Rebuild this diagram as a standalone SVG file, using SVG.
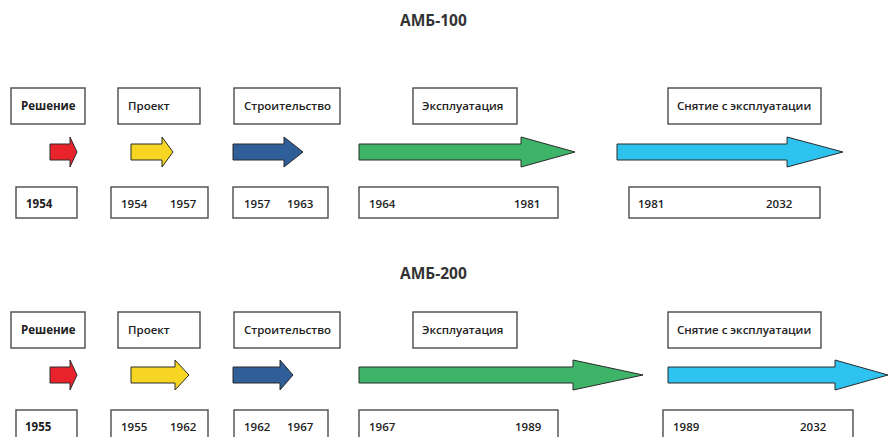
<svg xmlns="http://www.w3.org/2000/svg" width="889" height="437" viewBox="0 0 889 437">
<style>
.bx{fill:#fff;stroke:#4a4a4a;stroke-width:1.4}
.t{font-family:"Open Sans","Noto Sans","DejaVu Sans",sans-serif;font-size:11.5px;font-weight:600;fill:#222}
.b{font-weight:700}
.ttl{font-family:"Open Sans","Noto Sans",sans-serif;font-size:15.5px;font-weight:700;fill:#333}
.ar{stroke:#2a2a2a;stroke-width:1;stroke-linejoin:miter}
.red{fill:#e8232b}.yel{fill:#f6d623}.blu{fill:#2f5e98}.grn{fill:#3db467}.cya{fill:#2ec3ee}
</style>
<rect width="889" height="437" fill="#fff"/>
<text class="ttl" x="400" y="26">АМБ-100</text>
<text class="ttl" x="400" y="279">АМБ-200</text>

<g id="row1">
<g id="r1-resh"><rect class="bx" x="11" y="88" width="74" height="36"/><text class="t b" x="21" y="110">Решение</text></g>
<g id="r1-proekt"><rect class="bx" x="118" y="88" width="82" height="36"/><text class="t" x="128" y="110">Проект</text></g>
<g id="r1-stroi"><rect class="bx" x="234" y="88" width="106" height="36"/><text class="t" x="244" y="110">Строительство</text></g>
<g id="r1-expl"><rect class="bx" x="413" y="88" width="104" height="36"/><text class="t" x="422" y="110">Эксплуатация</text></g>
<g id="r1-snyat"><rect class="bx" x="668" y="88" width="153" height="36"/><text class="t" x="677" y="110">Снятие с эксплуатации</text></g>

<g id="r1-d1"><rect class="bx" x="16" y="187" width="61" height="31"/><text class="t b" x="26" y="208">1954</text></g>
<g id="r1-d2"><rect class="bx" x="111" y="187" width="97" height="31"/><text class="t" x="121" y="208">1954</text><text class="t" x="170" y="208">1957</text></g>
<g id="r1-d3"><rect class="bx" x="233" y="187" width="95" height="31"/><text class="t" x="244" y="208">1957</text><text class="t" x="287" y="208">1963</text></g>
<g id="r1-d4"><rect class="bx" x="359" y="187" width="199" height="31"/><text class="t" x="369" y="208">1964</text><text class="t" x="514" y="208">1981</text></g>
<g id="r1-d5"><rect class="bx" x="629" y="187" width="191" height="31"/><text class="t" x="638" y="208">1981</text><text class="t" x="766" y="208">2032</text></g>
</g>

<g id="row2">
<g id="r2-resh"><rect class="bx" x="11" y="312" width="74" height="36"/><text class="t b" x="21" y="334">Решение</text></g>
<g id="r2-proekt"><rect class="bx" x="118" y="312" width="82" height="36"/><text class="t" x="128" y="334">Проект</text></g>
<g id="r2-stroi"><rect class="bx" x="234" y="312" width="106" height="36"/><text class="t" x="244" y="334">Строительство</text></g>
<g id="r2-expl"><rect class="bx" x="413" y="312" width="104" height="36"/><text class="t" x="422" y="334">Эксплуатация</text></g>
<g id="r2-snyat"><rect class="bx" x="668" y="312" width="153" height="36"/><text class="t" x="677" y="334">Снятие с эксплуатации</text></g>

<g id="r2-d1"><rect class="bx" x="16" y="410" width="61" height="40"/><text class="t b" x="25" y="431">1955</text></g>
<g id="r2-d2"><rect class="bx" x="111" y="410" width="97" height="40"/><text class="t" x="121" y="431">1955</text><text class="t" x="170" y="431">1962</text></g>
<g id="r2-d3"><rect class="bx" x="234" y="410" width="94" height="40"/><text class="t" x="244" y="431">1962</text><text class="t" x="287" y="431">1967</text></g>
<g id="r2-d4"><rect class="bx" x="359" y="410" width="199" height="40"/><text class="t" x="369" y="431">1967</text><text class="t" x="515" y="431">1989</text></g>
<g id="r2-d5"><rect class="bx" x="663" y="410" width="190" height="40"/><text class="t" x="673" y="431">1989</text><text class="t" x="800" y="431">2032</text></g>
</g>

<g id="connectors">
<polygon class="ar red" points="50,144 70,144 70,137 77,152 70,167 70,160 50,160"/>
<polygon class="ar yel" points="131,144 162,144 162,137 173,152 162,167 162,160 131,160"/>
<polygon class="ar blu" points="233,144 284,144 284,137 303,152 284,167 284,160 233,160"/>
<polygon class="ar grn" points="359,144 521,144 521,137 575,152 521,167 521,160 359,160"/>
<polygon class="ar cya" points="617,144 787,144 787,137 843,152 787,167 787,160 617,160"/>

<polygon class="ar red" points="50,367 70,367 70,360 77,375 70,390 70,383 50,383"/>
<polygon class="ar yel" points="131,367 175,367 175,360 189,375 175,390 175,383 131,383"/>
<polygon class="ar blu" points="233,367 280,367 280,360 293,375 280,390 280,383 233,383"/>
<polygon class="ar grn" points="359,367 573,367 573,360 643,375 573,390 573,383 359,383"/>
<polygon class="ar cya" points="668,367 835,367 835,360 888,375 835,390 835,383 668,383"/>
</g>
</svg>
